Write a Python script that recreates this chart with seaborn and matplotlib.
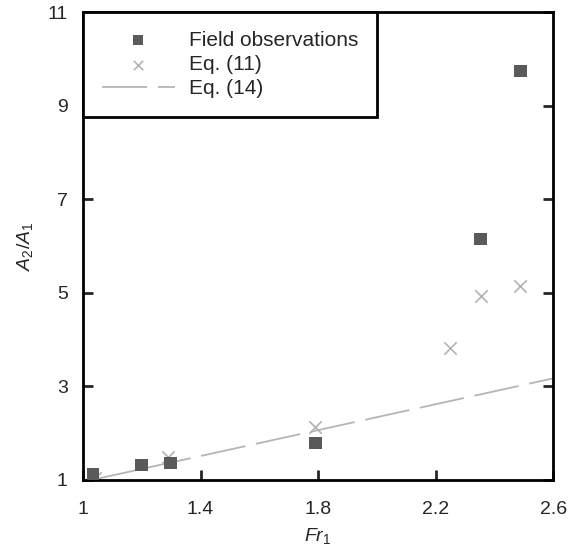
import numpy as np
import pandas as pd
import seaborn as sns
import matplotlib.pyplot as plt

# Field observations
fr_obs = [1.034, 1.198, 1.297, 1.79, 2.354, 2.49]
ratio_obs = [1.11, 1.32, 1.36, 1.79, 6.15, 9.74]

# Eq. (11)
fr_eq11 = [1.04, 1.29, 1.79, 2.248, 2.354, 2.487]
ratio_eq11 = [1.05, 1.5, 2.13, 3.83, 4.93, 5.14]

# Eq. (14)
fr_eq14 = [1.03, 2.6]
ratio_eq14 = [1.0, 3.17]

x_ticks = [1, 1.4, 1.8, 2.2, 2.6]
x_ticklabels = ['1', '1.4', '1.8', '2.2', '2.6']
y_ticks = [1, 3, 5, 7, 9, 11]

sns.set_style('white')
plt.rcParams['font.family'] = ['Liberation Sans', 'DejaVu Sans']
plt.rcParams['mathtext.fontset'] = 'custom'
plt.rcParams['mathtext.rm'] = 'Liberation Sans'
plt.rcParams['mathtext.it'] = 'Liberation Sans:italic'

fig = plt.figure(figsize=(5.69, 5.46), dpi=100)
ax = fig.add_axes([0.146, 0.121, 0.826, 0.857])

sns.lineplot(x=fr_eq14, y=ratio_eq14, ax=ax, color='#b5b5b5', lw=1.3,
             label='Eq. (14)', zorder=1)
ax.lines[-1].set_dashes([25, 6])
sns.scatterplot(x=fr_eq11, y=ratio_eq11, ax=ax, marker='x', color='#b3b3b3',
                s=80, linewidth=1.2, label='Eq. (11)', zorder=2)
sns.scatterplot(x=fr_obs, y=ratio_obs, ax=ax, marker='s', color='#5a5a5a',
                s=85, edgecolor='none', label='Field observations', zorder=3)

ax.set_xlim(1, 2.6)
ax.set_ylim(1, 11)
ax.set_xticks(x_ticks)
ax.set_xticklabels(x_ticklabels)
ax.set_yticks(y_ticks)
ax.tick_params(direction='in', length=7, width=2, labelsize=14,
               left=True, bottom=True, right=True, top=False)
ax.tick_params(axis='x', pad=15)
ax.tick_params(axis='y', pad=11)
for s in ax.spines.values():
    s.set_linewidth(2)
    s.set_color('black')

ax.set_xlabel(r'$\mathit{Fr}_1$', fontsize=14, labelpad=6)
ax.set_ylabel(r'$\mathit{A}_2/\mathit{A}_1$', fontsize=14, labelpad=9)

h, l = ax.get_legend_handles_labels()
order = [2, 1, 0]
leg = ax.legend([h[i] for i in order], [l[i] for i in order], loc='upper left',
                borderaxespad=0, fontsize=15, frameon=True, fancybox=False,
                handlelength=3.5, handletextpad=0.7, borderpad=0.9,
                labelspacing=0.25, markerscale=0.75)
leg.get_frame().set_edgecolor('black')
leg.get_frame().set_linewidth(2)
leg.get_frame().set_alpha(1)

fig.savefig('out.png', dpi=100)
